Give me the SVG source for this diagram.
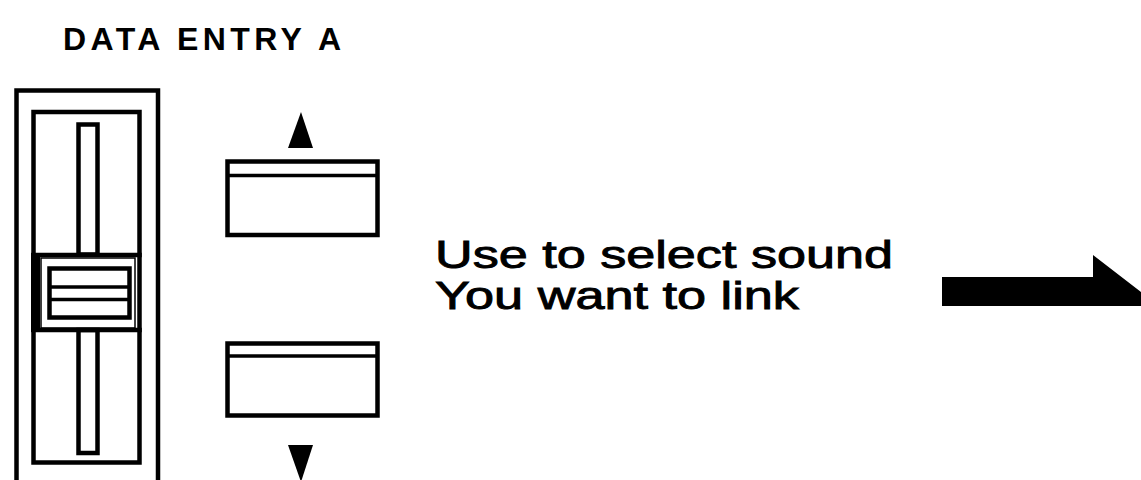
<svg xmlns="http://www.w3.org/2000/svg" width="1141" height="480" viewBox="0 0 1141 480">
<style>
.ln{fill:none;stroke:#000;stroke-width:4.5;stroke-linecap:square}
.thin{fill:none;stroke:#000;stroke-width:1.5}
.sl{stroke:#000;stroke-width:3.5}
.t{font-family:"Liberation Sans",Arial,sans-serif;fill:#000}
.b{stroke:#000;stroke-width:0.9}
</style>
<rect width="1141" height="480" fill="#fff"/>
<g id="title"><text class="t" x="63" y="50" font-size="32" font-weight="bold" textLength="278" lengthAdjust="spacing">DATA ENTRY A</text></g>
<g id="fader">
<rect class="ln" x="16.5" y="90.5" width="141.5" height="420"/>
<rect class="ln" x="33.5" y="112" width="106" height="350.5"/>
<rect class="ln" x="78.5" y="124.5" width="19" height="130"/>
<rect class="ln" x="78.5" y="330" width="19" height="123"/>
<line class="ln" x1="33.5" y1="255" x2="139.5" y2="255"/>
<line class="ln" x1="33.5" y1="330" x2="139.5" y2="330"/>
<rect x="31" y="253" width="9" height="79" fill="#000"/>
<rect class="thin" x="41" y="258" width="94" height="70"/>
<rect class="ln" x="49.5" y="268.5" width="80" height="49"/>
<line class="sl" x1="50" y1="287" x2="129" y2="287"/>
<line class="sl" x1="50" y1="299.5" x2="129" y2="299.5"/>
</g>
<g id="up-button">
<polygon points="301,112 313,148 288,148" fill="#000"/>
<rect class="ln" x="227.5" y="161.5" width="150" height="73.5"/>
<line class="sl" x1="228" y1="175.5" x2="377" y2="175.5"/>
</g>
<g id="down-button">
<rect class="ln" x="227.5" y="343.5" width="150" height="72"/>
<line class="sl" x1="228" y1="356" x2="377" y2="356"/>
<polygon points="288,445 313,445 301,482" fill="#000"/>
</g>
<g id="label">
<text class="t b" x="435" y="268" font-size="39" textLength="458" lengthAdjust="spacingAndGlyphs">Use to select sound</text>
<text class="t b" x="435" y="309" font-size="39" textLength="364" lengthAdjust="spacingAndGlyphs">You want to link</text>
</g>
<g id="connectors">
<polygon points="942,277 1093,277 1093,255 1159,306 942,306" fill="#000"/>
</g>
</svg>
